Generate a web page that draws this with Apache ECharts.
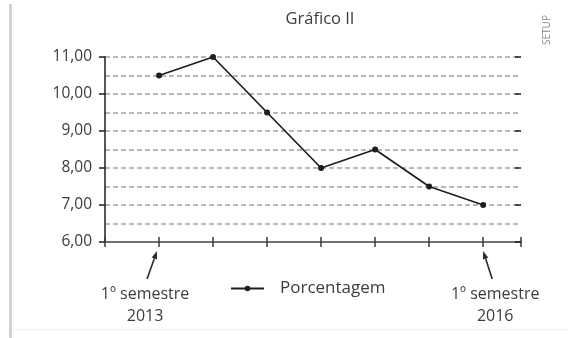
<!DOCTYPE html>
<html>
<head>
<meta charset="utf-8">
<script src="https://cdn.jsdelivr.net/npm/echarts@6/dist/echarts.min.js"></script>
<style>
  html, body { margin: 0; padding: 0; background: #fff; }
  #chart { width: 568px; height: 338px; }
</style>
</head>
<body>
<div id="chart"></div>
<script>
// Semesters from 1º/2013 to 1º/2016 and the percentage recorded in each
const semesters = ['1º semestre 2013', '2º semestre 2013', '1º semestre 2014', '2º semestre 2014',
                   '1º semestre 2015', '2º semestre 2015', '1º semestre 2016'];
const percentages = [10.5, 11.0, 9.5, 8.0, 8.5, 7.5, 7.0];
const yTicks = [6, 7, 8, 9, 10, 11];
const seriesName = 'Porcentagem';
const chartTitle = 'Gráfico II';
const startLabel = ['1º semestre', '2013'];
const endLabel = ['1º semestre', '2016'];
const sourceNote = 'SETUP';

const FONT = 'Open Sans';
const TEXT = '#3c3c3c';

// semester i sits on x = i + 1; x = 0 is the origin of the axis
const points = percentages.map((v, i) => [i + 1, v]);
const xMax = semesters.length + 0.7;

const chart = echarts.init(document.getElementById('chart'), null, { renderer: 'canvas' });

const option = {
  backgroundColor: '#fff',
  animation: false,
  title: {
    text: chartTitle,
    left: 315, top: 6, textAlign: 'center',
    textStyle: { fontFamily: FONT, fontSize: 16.5, fontWeight: 'normal', color: TEXT }
  },
  legend: {
    data: [seriesName],
    left: 225, top: 275,
    itemWidth: 33, itemHeight: 7,
    textStyle: { fontFamily: FONT, fontSize: 17, color: TEXT, padding: [0, 0, 0, 11] }
  },
  grid: { left: 105, right: 47, top: 57, bottom: 96 },
  xAxis: [
    {
      type: 'value', min: 0, max: xMax, interval: 1,
      axisLine: { show: true, lineStyle: { color: '#6f6f6f', width: 2 } },
      axisTick: { show: true, length: 5, lineStyle: { color: '#3a3a3a', width: 1.5 } },
      axisLabel: { show: false },
      splitLine: { show: false }
    },
    {
      // inner half of the crossing ticks
      type: 'value', min: 0, max: xMax, interval: 1, position: 'bottom',
      axisLine: { show: false },
      axisTick: { show: true, inside: true, length: 5, lineStyle: { color: '#3a3a3a', width: 1.5 } },
      axisLabel: { show: false },
      splitLine: { show: false }
    }
  ],
  yAxis: [
    {
      type: 'value', min: yTicks[0], max: yTicks[yTicks.length - 1], interval: 1,
      axisLine: { show: true, lineStyle: { color: '#1e1e1e', width: 1.5 } },
      axisTick: { show: true, length: 6, lineStyle: { color: '#1e1e1e', width: 1.5 } },
      axisLabel: {
        margin: 13, fontFamily: FONT, fontSize: 15.5, color: TEXT,
        formatter: v => v.toFixed(2).replace('.', ',')
      },
      splitLine: { show: false }
    },
    {
      // dashed guide lines every half point
      type: 'value', min: yTicks[0], max: yTicks[yTicks.length - 1], interval: 0.5,
      axisLine: { show: false }, axisTick: { show: false }, axisLabel: { show: false },
      splitLine: { show: true, lineStyle: { color: '#b8b8b8', width: 2, type: [5, 3] } }
    },
    {
      // inner half of the crossing ticks
      type: 'value', min: yTicks[0], max: yTicks[yTicks.length - 1], interval: 1,
      axisLine: { show: false },
      axisTick: { show: true, inside: true, length: 6, lineStyle: { color: '#1e1e1e', width: 1.5 } },
      axisLabel: { show: false }, splitLine: { show: false }
    }
  ],
  series: [{
    name: seriesName,
    type: 'line',
    data: points,
    symbol: 'circle',
    symbolSize: 6,
    lineStyle: { color: '#1e1e1e', width: 1.7 },
    itemStyle: { color: '#1e1e1e' },
    z: 5
  }]
};

chart.setOption(option);

// Arrows and captions pointing at the first and last semester ticks
function arrow(tip, tail) {
  const dx = tip[0] - tail[0], dy = tip[1] - tail[1];
  const len = Math.hypot(dx, dy);
  const ux = dx / len, uy = dy / len;
  const hl = 8, hw = 2.8;
  const base = [tip[0] - ux * hl, tip[1] - uy * hl];
  return [
    { type: 'line', shape: { x1: tail[0], y1: tail[1], x2: base[0], y2: base[1] },
      style: { stroke: '#2a2a2a', lineWidth: 1.6 } },
    { type: 'polygon', shape: { points: [tip,
        [base[0] - uy * hw, base[1] + ux * hw],
        [base[0] + uy * hw, base[1] - ux * hw]] },
      style: { fill: '#2a2a2a' } }
  ];
}

const first = chart.convertToPixel({ xAxisIndex: 0, yAxisIndex: 0 }, [1, yTicks[0]]);
const last = chart.convertToPixel({ xAxisIndex: 0, yAxisIndex: 0 }, [semesters.length, yTicks[0]]);

const captionStyle = { fontFamily: FONT, fontSize: 16, fill: TEXT, align: 'center', lineHeight: 22 };

chart.setOption({
  graphic: [
    { type: 'rect', shape: { x: 9, y: 4, width: 3, height: 334 }, style: { fill: '#d2d2d2' } },
    { type: 'rect', shape: { x: 12, y: 329, width: 556, height: 1 }, style: { fill: '#efefef' } },
    ...arrow([first[0] - 2, first[1] + 9], [first[0] - 12, first[1] + 37]),
    ...arrow([last[0], last[1] + 9], [last[0] + 9, last[1] + 37]),
    { type: 'text', x: first[0] - 14, y: first[1] + 41,
      style: Object.assign({ text: startLabel.join('\n') }, captionStyle) },
    { type: 'text', x: last[0] + 12, y: last[1] + 41,
      style: Object.assign({ text: endLabel.join('\n') }, captionStyle) },
    { type: 'text', x: 547, y: 30, rotation: Math.PI / 2,
      style: { text: sourceNote, fontFamily: FONT, fontSize: 10, fill: '#8a8a8a',
               align: 'center', verticalAlign: 'middle' } }
  ]
});
</script>
</body>
</html>
